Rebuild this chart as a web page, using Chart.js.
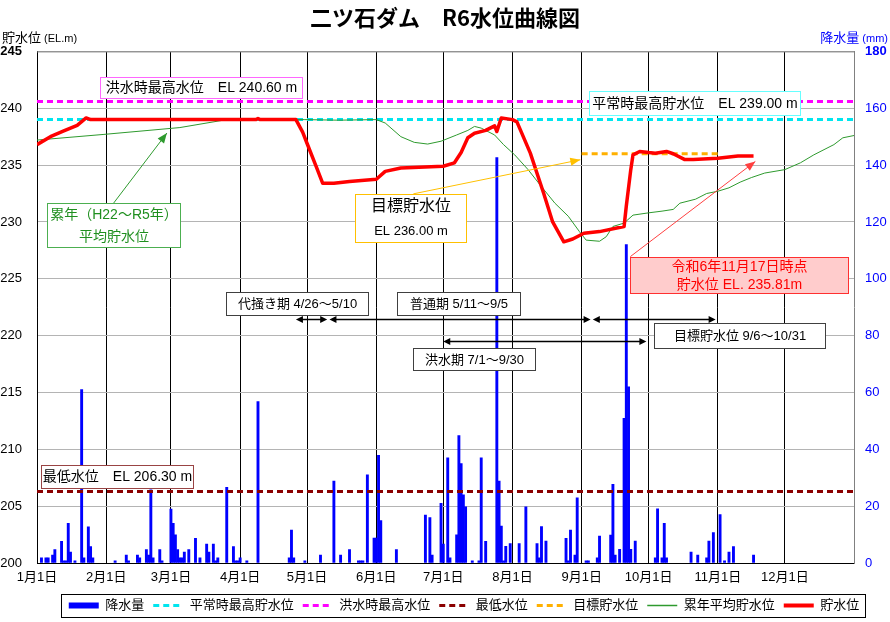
<!DOCTYPE html>
<html>
<head>
<meta charset="utf-8">
<script src="https://cdn.jsdelivr.net/npm/chart.js@4.4.1/dist/chart.umd.min.js"></script>
<style>
  html, body { margin: 0; padding: 0; background: #fff; }
  #wrap { width: 890px; height: 622px; }
</style>
</head>
<body>
<div id="wrap"><canvas id="chart"></canvas></div>
<script>
// x = days since 1 Jan 2024 (leap year, 366 days)
const monthStarts = [0, 31, 60, 91, 121, 152, 182, 213, 244, 274, 305, 335];
const monthLabels = ['1月1日', '2月1日', '3月1日', '4月1日', '5月1日', '6月1日',
                     '7月1日', '8月1日', '9月1日', '10月1日', '11月1日', '12月1日'];
const yearSpan = [0, 366];

// daily rainfall (mm)
const rainDays = [2, 4, 5, 7, 8, 11, 12, 13, 14, 15, 17, 20, 21, 23, 24, 25,
  35, 40, 41, 45, 46, 49, 50, 51, 52, 55, 56,
  60, 61, 62, 63, 64, 65, 66, 68, 71, 73, 76, 77, 79, 80, 81, 85, 88, 89, 90,
  91, 94, 99, 113, 114, 115,
  120, 127, 133, 136, 140, 144, 145, 146, 148, 151, 152, 153, 154,
  161, 174, 176, 177, 181, 182, 184, 185, 188, 189, 190, 191, 192, 195, 198, 199, 201,
  206, 207, 208, 209, 210, 212, 216, 219, 224, 225, 226, 228, 237, 238, 239, 241, 242,
  246, 247, 251, 252, 257, 258, 259, 261, 263, 264, 265, 266, 268,
  277, 278, 280, 281, 282, 293, 296, 300, 301, 303, 306, 308, 310, 312, 321];
const rainMm = [1.8, 1.8, 1.8, 2.8, 4.7, 7.6, 0.8, 0.8, 14, 3.8, 0.8, 61, 1.8, 12.7, 5.8, 1.8,
  0.8, 2.8, 0.8, 2.8, 1.8, 4.7, 2.8, 25.7, 1.8, 4.7, 0.8,
  19, 14, 9.9, 4.7, 1.8, 1.8, 3.8, 4.7, 8.7, 1.8, 6.7, 3.8, 6.7, 0.8, 1.8, 26.6, 5.8, 0.8, 0.8,
  1.8, 0.8, 56.8, 1.8, 11.6, 1.8,
  0.8, 2.8, 28.8, 2.8, 4.7, 0.8, 0.8, 0.8, 31, 8.8, 8.8, 37.9, 14.9,
  4.7, 16.9, 16, 2.8, 21, 6.7, 37, 1.8, 9.9, 44.8, 35, 24, 19.8, 0.8, 0.8, 37, 7.6,
  142.6, 28.8, 13, 0.8, 5.9, 6.8, 6.8, 19.8, 6.8, 1.8, 12.8, 7.7, 8.7, 0.8, 11.6, 2.8, 22.9,
  0.8, 0.8, 1.8, 9.5, 9.8, 27.7, 2.8, 4.8, 50.9, 112, 62, 4.8, 7.7,
  1.8, 19.1, 1.8, 14, 1.8, 3.8, 2.8, 1.8, 7.7, 10.7, 17, 0.8, 3.8, 5.8, 2.8];

// reservoir level R6 (EL.m)
const levelDays = [0, 6, 12, 18, 22, 24, 98, 99, 100, 116, 119, 121, 125, 128, 133, 140, 152, 156,
  163, 182, 187, 190, 193, 196, 201, 205, 206, 208, 213, 215, 221, 227, 231, 236, 240, 245,
  252, 263, 264, 266, 267, 270, 274, 277, 282, 285, 290, 294, 305, 314, 321];
const levelValues = [236.8, 237.5, 238.0, 238.5, 239.15, 239.0, 239.0, 239.1, 239.0, 239.0, 237.9,
  236.9, 234.9, 233.4, 233.4, 233.55, 233.75, 234.45, 234.75, 234.9, 235.2, 236.1, 237.4, 237.8,
  238.05, 238.45, 237.95, 239.15, 239.0, 238.8, 236.05, 232.5, 230.0, 228.25, 228.5, 229.0,
  229.15, 229.6, 231.4, 234.6, 235.9, 236.2, 236.1, 236.05, 236.2, 236.0, 235.5, 235.5, 235.6,
  235.8, 235.81];

// average level H22-R5 (EL.m)
const avgDays = [0, 30, 64, 85, 100, 120, 135, 152, 156, 163, 169, 175, 181, 188, 193, 196, 199,
  205, 209, 214, 220, 226, 232, 238, 243, 246, 252, 255, 258, 263, 267, 274, 280, 285, 288, 295,
  300, 305, 310, 315, 320, 326, 335, 342, 348, 357, 361, 366];
const avgValues = [237.2, 237.7, 238.3, 239.0, 239.0, 239.0, 238.95, 239.0, 238.7, 237.5, 237.0,
  236.85, 237.1, 237.65, 238.05, 238.4, 238.25, 237.65, 236.8, 235.9, 234.6, 233.1, 231.65, 230.5,
  229.15, 228.4, 228.3, 228.7, 229.6, 229.9, 230.6, 230.8, 230.95, 231.1, 231.65, 232.0, 232.5,
  232.7, 233.0, 233.5, 233.9, 234.3, 234.6, 235.2, 235.9, 236.8, 237.4, 237.6];

const normalHighLevel = 239.0;
const floodHighLevel = 240.6;
const minLevel = 206.3;
const targetLevel = 236.0;
const targetSpan = [244, 305];

const FONT = '"Liberation Sans", "Noto Sans CJK JP", sans-serif';

function pts(xs, ys) {
    return xs.map((x, i) => ({ x: x, y: Array.isArray(ys) ? ys[i] : ys }));
}

// text boxes and arrows, positioned in data units (day, EL.m)
const noteBoxes = [
    { x0: 28, x1: 118.7, y0: 242.77, y1: 240.92, lines: ['洪水時最高水位　EL 240.60 m'], border: '#ff66ff' },
    { x0: 247.4, x1: 341.9, y0: 241.48, y1: 239.43, lines: ['平常時最高貯水位　EL 239.00 m'], border: '#66ffff' },
    { x0: 4.5, x1: 64.2, y0: 231.68, y1: 227.81, lines: ['累年（H22～R5年）', '平均貯水位'], border: '#4caf50', color: '#1f8f1f' },
    { x0: 142.6, x1: 192.2, y0: 232.47, y1: 228.25, lines: ['目標貯水位', 'EL 236.00 m'], sizes: [16, 13], border: '#ffc000' },
    { x0: 265.8, x1: 363.5, y0: 226.95, y1: 223.73, lines: ['令和6年11月17日時点', '貯水位 EL. 235.81m'], border: '#ff3030', fill: '#ffcccc', color: '#ff0000' },
    { x0: 1.8, x1: 70, y0: 208.62, y1: 206.6, lines: ['最低水位　EL 206.30 m'], border: '#994444' },
    { x0: 84.7, x1: 148.4, y0: 223.8, y1: 221.8, lines: ['代掻き期 4/26～5/10'], border: '#404040', size: 13 },
    { x0: 161.4, x1: 216.5, y0: 223.8, y1: 221.8, lines: ['普通期 5/11～9/5'], border: '#404040', size: 13 },
    { x0: 276.6, x1: 352.9, y0: 221.12, y1: 218.92, lines: ['目標貯水位 9/6～10/31'], border: '#404040', size: 13 },
    { x0: 168.3, x1: 223.3, y0: 218.92, y1: 216.98, lines: ['洪水期 7/1～9/30'], border: '#404040', size: 13 }
];
const noteArrows = [
    { from: [34.3, 231.65], to: [58.2, 237.82], color: '#2e9a2e' },
    { from: [168.6, 232.47], to: [243.4, 235.47], color: '#ffc000' },
    { from: [265.8, 226.95], to: [321.8, 235.32], color: '#ff4040' }
];
const periodArrows = [
    { from: 116, to: 130, level: 221.44 },
    { from: 131, to: 248, level: 221.44 },
    { from: 249, to: 304, level: 221.44 },
    { from: 182, to: 273, level: 219.56 }
];

function arrowHead(ctx, x0, y0, x1, y1, len, half) {
    const a = Math.atan2(y1 - y0, x1 - x0);
    ctx.beginPath();
    ctx.moveTo(x1, y1);
    ctx.lineTo(x1 - len * Math.cos(a) + half * Math.sin(a), y1 - len * Math.sin(a) - half * Math.cos(a));
    ctx.lineTo(x1 - len * Math.cos(a) - half * Math.sin(a), y1 - len * Math.sin(a) + half * Math.cos(a));
    ctx.closePath();
    ctx.fill();
}

const notesPlugin = {
    id: 'notes',
    afterLayout(chart) {
        // the legend frame in the original sits a bit right of centre
        chart.legend.left += 19;
        chart.legend.right += 19;
    },
    beforeDatasetsDraw(chart) {
        const { ctx, chartArea: a } = chart;
        ctx.save();
        ctx.strokeStyle = '#808080';
        ctx.lineWidth = 1;
        ctx.beginPath();
        ctx.moveTo(a.left, a.top + 0.5);
        ctx.lineTo(a.right, a.top + 0.5);
        ctx.stroke();
        ctx.restore();
    },
    afterDatasetsDraw(chart) {
        const { ctx } = chart;
        const xs = chart.scales.x, ys = chart.scales.y;
        ctx.save();

        noteArrows.forEach(ar => {
            const x0 = xs.getPixelForValue(ar.from[0]), y0 = ys.getPixelForValue(ar.from[1]);
            const x1 = xs.getPixelForValue(ar.to[0]), y1 = ys.getPixelForValue(ar.to[1]);
            ctx.strokeStyle = ar.color;
            ctx.fillStyle = ar.color;
            ctx.lineWidth = 1;
            ctx.beginPath();
            ctx.moveTo(x0, y0);
            ctx.lineTo(x1, y1);
            ctx.stroke();
            arrowHead(ctx, x0, y0, x1, y1, 10, 4);
        });

        periodArrows.forEach(ar => {
            const x0 = xs.getPixelForValue(ar.from), x1 = xs.getPixelForValue(ar.to);
            const y = Math.round(ys.getPixelForValue(ar.level)) + 0.5;
            ctx.strokeStyle = '#000';
            ctx.fillStyle = '#000';
            ctx.lineWidth = 1.5;
            ctx.beginPath();
            ctx.moveTo(x0 + 3, y);
            ctx.lineTo(x1 - 3, y);
            ctx.stroke();
            arrowHead(ctx, x1, y, x0, y, 7, 3.5);
            arrowHead(ctx, x0, y, x1, y, 7, 3.5);
        });

        noteBoxes.forEach(b => {
            const l = Math.round(xs.getPixelForValue(b.x0)) + 0.5;
            const r = Math.round(xs.getPixelForValue(b.x1)) + 0.5;
            const t = Math.round(ys.getPixelForValue(b.y0)) + 0.5;
            const btm = Math.round(ys.getPixelForValue(b.y1)) + 0.5;
            ctx.fillStyle = b.fill || '#fff';
            ctx.fillRect(l, t, r - l, btm - t);
            ctx.strokeStyle = b.border;
            ctx.lineWidth = 1;
            ctx.strokeRect(l, t, r - l, btm - t);
            ctx.fillStyle = b.color || '#000';
            ctx.textAlign = 'center';
            ctx.textBaseline = 'middle';
            const n = b.lines.length;
            const h = (btm - t) / n;
            b.lines.forEach((s, i) => {
                const size = b.sizes ? b.sizes[i] : (b.size || 14);
                ctx.font = size + 'px ' + FONT;
                ctx.fillText(s, (l + r) / 2, t + h * (i + 0.5) + 0.5);
            });
        });
        ctx.restore();
    },
    afterDraw(chart) {
        const { ctx } = chart;
        ctx.save();
        // axis titles
        ctx.textBaseline = 'middle';
        ctx.textAlign = 'left';
        ctx.fillStyle = '#000';
        ctx.font = '13px ' + FONT;
        ctx.fillText('貯水位', 2, 38);
        const w = ctx.measureText('貯水位').width;
        ctx.font = '11px ' + FONT;
        ctx.fillText(' (EL.m)', 2 + w, 39);
        ctx.fillStyle = '#0000ff';
        ctx.textAlign = 'right';
        ctx.fillText(' (mm)', 888, 39);
        const w2 = ctx.measureText(' (mm)').width;
        ctx.font = '13px ' + FONT;
        ctx.fillText('降水量', 888 - w2, 38);

        // legend frame
        const hb = chart.legend.legendHitBoxes;
        if (hb && hb.length) {
            const left = Math.min(...hb.map(h => h.left)) - 8;
            const right = Math.max(...hb.map(h => h.left + h.width)) + 5;
            const top = hb[0].top - 5;
            const bottom = hb[0].top + hb[0].height + 5;
            ctx.strokeStyle = '#000';
            ctx.lineWidth = 1;
            ctx.strokeRect(Math.round(left) + 0.5, Math.round(top) + 0.5, Math.round(right - left), Math.round(bottom - top));
        }
        ctx.restore();
    }
};

const datasets = [
    {
        type: 'bar', label: '降水量', yAxisID: 'y1', order: 5,
        data: pts(rainDays, rainMm),
        backgroundColor: '#0000ff', borderWidth: 0,
        barPercentage: 1, categoryPercentage: 1, grouped: false,
        legendWidth: 6, legendColor: '#0000ff'
    },
    {
        type: 'line', label: '平常時最高貯水位', yAxisID: 'y', order: 3,
        data: pts(yearSpan, normalHighLevel),
        borderColor: '#00e5ee', borderWidth: 3, borderDash: [6, 4], pointRadius: 0,
        legendWidth: 3
    },
    {
        type: 'line', label: '洪水時最高水位', yAxisID: 'y', order: 3,
        data: pts(yearSpan, floodHighLevel),
        borderColor: '#ff00ff', borderWidth: 3, borderDash: [6, 4], pointRadius: 0,
        legendWidth: 3
    },
    {
        type: 'line', label: '最低水位', yAxisID: 'y', order: 3,
        data: pts(yearSpan, minLevel),
        borderColor: '#8b0000', borderWidth: 3, borderDash: [6, 4], pointRadius: 0,
        legendWidth: 3
    },
    {
        type: 'line', label: '目標貯水位', yAxisID: 'y', order: 3,
        data: pts(targetSpan, targetLevel),
        borderColor: '#ffb000', borderWidth: 3, borderDash: [6, 4], pointRadius: 0,
        legendWidth: 3
    },
    {
        type: 'line', label: '累年平均貯水位', yAxisID: 'y', order: 1,
        data: pts(avgDays, avgValues),
        borderColor: '#2e9a2e', borderWidth: 1, pointRadius: 0,
        legendWidth: 1.5
    },
    {
        type: 'line', label: '貯水位', yAxisID: 'y', order: 0,
        data: pts(levelDays, levelValues),
        borderColor: '#ff0000', borderWidth: 3.5, pointRadius: 0, borderJoinStyle: 'round',
        legendWidth: 4
    }
];

new Chart(document.getElementById('chart'), {
    data: { datasets: datasets },
    options: {
        responsive: true,
        maintainAspectRatio: false,
        animation: false,
        layout: { padding: { left: 0, right: 0, top: 0, bottom: 0 } },
        scales: {
            x: {
                type: 'linear', min: 0, max: 366, offset: false,
                afterBuildTicks: scale => { scale.ticks = monthStarts.map(v => ({ value: v })); },
                afterFit: scale => { scale.height = 27; },
                grid: { color: '#000', lineWidth: 1, drawTicks: false, offset: false },
                border: { color: '#000' },
                ticks: {
                    padding: 7, maxRotation: 0, autoSkip: false, color: '#000',
                    font: { size: 13, family: FONT },
                    callback: v => monthLabels[monthStarts.indexOf(v)]
                }
            },
            y: {
                position: 'left', min: 200, max: 245,
                afterFit: scale => { scale.width = 37; },
                grid: { color: '#b4b4b4', lineWidth: 1, drawTicks: false },
                border: { color: '#000' },
                ticks: {
                    stepSize: 5, padding: 15, color: '#000',
                    font: ctx => ({ size: 13, family: FONT, weight: ctx.tick && ctx.tick.value === 245 ? 'bold' : 'normal' })
                }
            },
            y1: {
                position: 'right', min: 0, max: 180,
                afterFit: scale => { scale.width = 36; },
                grid: { drawOnChartArea: false, drawTicks: false },
                border: { color: '#808080' },
                ticks: {
                    stepSize: 20, padding: 11, color: '#0000ff',
                    font: ctx => ({ size: 13, family: FONT, weight: ctx.tick && ctx.tick.value === 180 ? 'bold' : 'normal' })
                }
            }
        },
        plugins: {
            title: {
                display: true,
                text: '二ツ石ダム　R6水位曲線図',
                color: '#000',
                font: { size: 22, weight: 'bold', family: '"Noto Sans CJK JP", sans-serif' },
                padding: { top: 4, bottom: 21 }
            },
            tooltip: { enabled: false },
            legend: {
                position: 'bottom',
                labels: {
                    usePointStyle: true,
                    pointStyleWidth: 30,
                    padding: 9,
                    color: '#000',
                    font: { size: 13, family: FONT },
                    generateLabels: chart => chart.data.datasets.map((ds, i) => ({
                        text: ds.label,
                        datasetIndex: i,
                        pointStyle: 'line',
                        strokeStyle: ds.legendColor || ds.borderColor,
                        fillStyle: ds.legendColor || ds.borderColor,
                        lineWidth: ds.legendWidth,
                        lineDash: ds.borderDash || [],
                        hidden: false
                    }))
                }
            }
        }
    },
    plugins: [notesPlugin]
});
</script>
</body>
</html>
